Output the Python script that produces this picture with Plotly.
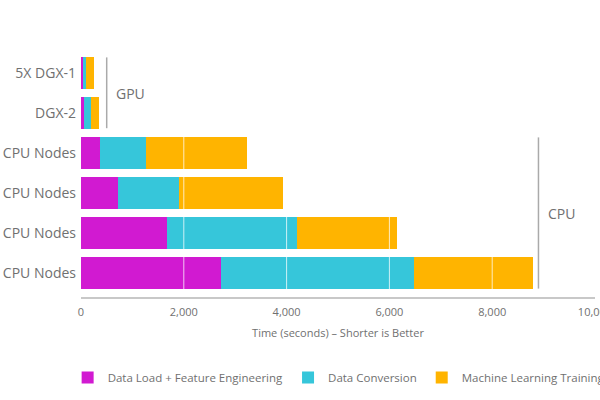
import plotly.graph_objects as go

# Data (bottom row first)
row_labels = ["CPU Nodes", "CPU Nodes", "CPU Nodes", "CPU Nodes", "DGX-2", "5X DGX-1"]
data_load = [2730, 1675, 720, 370, 60, 40]
data_conversion = [3755, 2530, 1190, 895, 130, 50]
ml_training = [2300, 1950, 2025, 1965, 165, 155]
series_names = ["Data Load + Feature Engineering", "Data Conversion", "Machine Learning Training"]
series_colors = ["#D11AD1", "#36C6DA", "#FFB400"]
x_ticks = [0, 2000, 4000, 6000, 8000, 10000]
x_tick_text = ["0", "2,000", "4,000", "6,000", "8,000", "10,000"]

ypos = list(range(len(row_labels)))
FONT = "Open Sans"
GREY = "#707070"

fig = go.Figure()
for name, vals, col in zip(series_names, [data_load, data_conversion, ml_training], series_colors):
    fig.add_trace(go.Bar(
        y=ypos, x=vals, name=name, orientation="h",
        marker=dict(color=col, line=dict(width=0)),
    ))

# white grid lines drawn above the bars
for t in x_ticks[1:-1]:
    fig.add_shape(type="line", xref="x", yref="paper", x0=t, x1=t, y0=0, y1=1,
                  line=dict(color="rgba(255,255,255,0.75)", width=1), layer="above")

# group brackets
fig.add_shape(type="line", xref="x", yref="y", x0=500, x1=500, y0=3.62, y1=5.39,
              line=dict(color="#aaaaaa", width=1.5))
fig.add_shape(type="line", xref="x", yref="y", x0=8900, x1=8900, y0=-0.39, y1=3.39,
              line=dict(color="#aaaaaa", width=1.5))
fig.add_annotation(x=650, y=4.5, xref="x", yref="y", text="GPU", showarrow=False,
                   xanchor="left", font=dict(family=FONT, size=14, color=GREY))
fig.add_annotation(x=9050, y=1.5, xref="x", yref="y", text="CPU", showarrow=False,
                   xanchor="left", font=dict(family=FONT, size=14, color=GREY))

fig.update_layout(
    width=600, height=400,
    barmode="stack", bargap=0.22,
    paper_bgcolor="white", plot_bgcolor="white",
    margin=dict(l=81, r=5, t=53, b=103, autoexpand=False),
    font=dict(family=FONT, color=GREY),
    xaxis=dict(range=[0, 10000], tickvals=x_ticks, ticktext=x_tick_text,
               showgrid=False, zeroline=False, automargin=False,
               ticklabeloverflow="allow",
               showline=True, linecolor="#c8c8c8", linewidth=1.5,
               tickfont=dict(size=11, color=GREY), ticklabelstandoff=4,
               title=dict(text="Time (seconds) \u2013 Shorter is Better",
                          font=dict(size=11, color=GREY), standoff=11)),
    yaxis=dict(range=[-0.6, 5.5], tickvals=ypos, ticktext=row_labels,
               showgrid=False, zeroline=False, showline=False, automargin=False,
               tickfont=dict(size=14, color=GREY), ticklabelstandoff=4),
    legend=dict(orientation="h", x=-0.026, y=-0.33, yanchor="middle", xanchor="left",
                font=dict(size=11.5, color=GREY), traceorder="normal"),
    showlegend=True,
)

fig.write_html("out.html", config={"displayModeBar": False},
               post_script="document.body.style.margin='0';")
